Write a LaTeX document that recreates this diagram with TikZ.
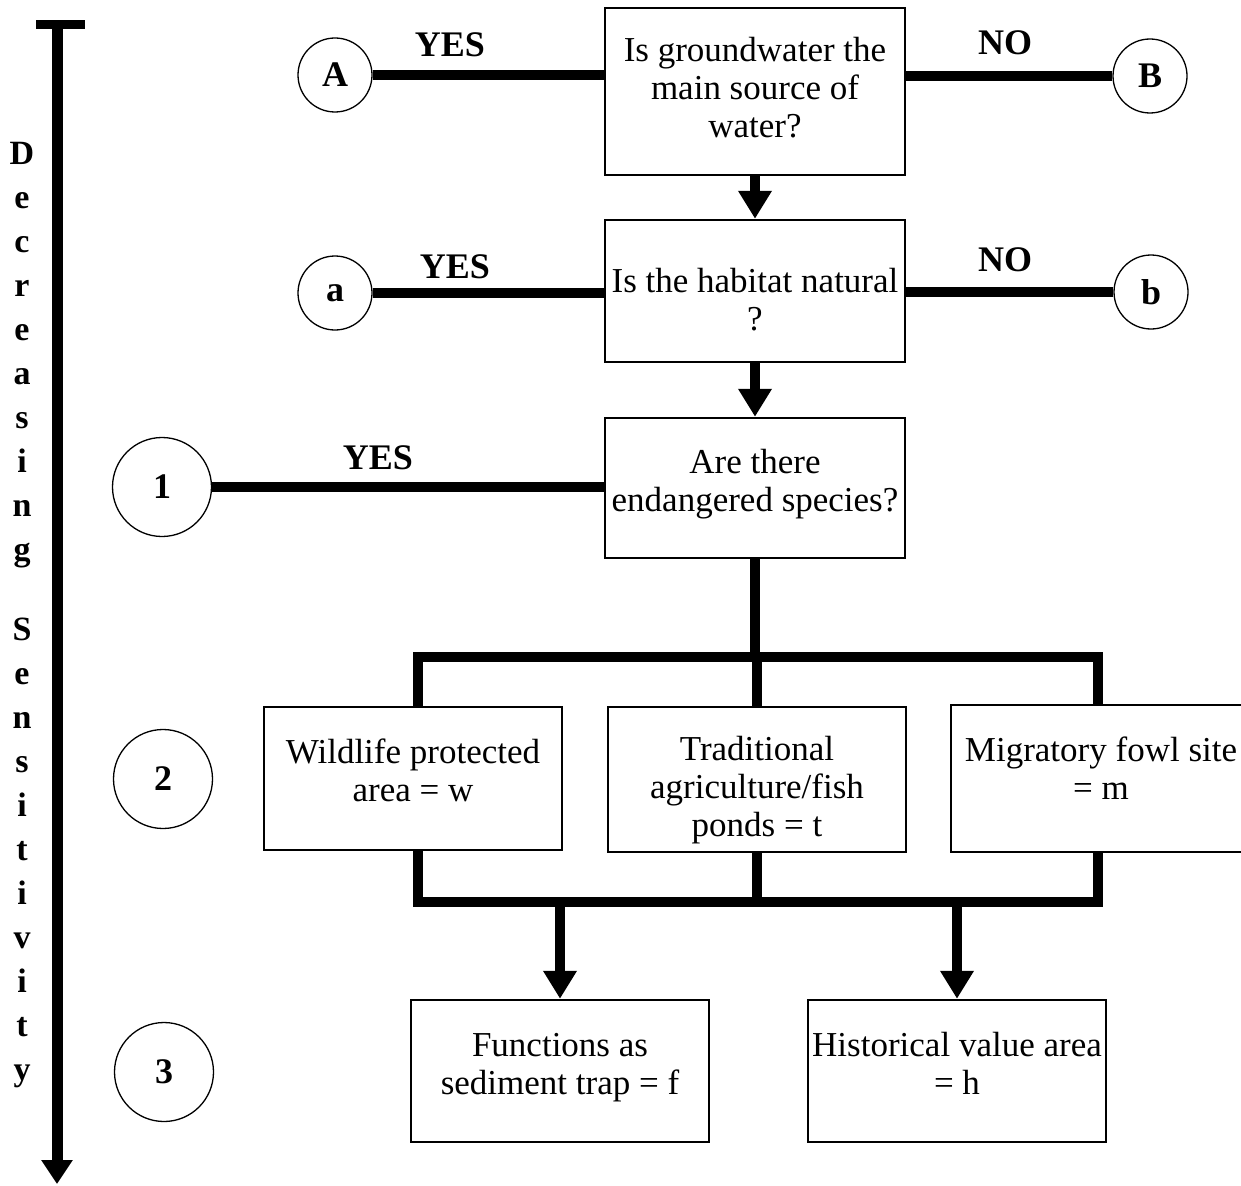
\documentclass[tikz,border=0pt]{standalone}
\usepackage{fontspec}
\setmainfont{Liberation Serif}
\usetikzlibrary{arrows.meta}
\newcommand\boxtext[2]{\raisebox{#1}[\height][\depth]{\begin{tabular}{@{}c@{}}#2\end{tabular}}}
\begin{document}
\begin{tikzpicture}[x=1pt,y=-1pt,
 box/.style={draw,line width=2.5pt,font=\fontsize{35}{38}\selectfont,inner sep=0pt,minimum width=300pt},
 circ/.style={draw,circle,line width=1.3pt,font=\fontsize{36}{40}\selectfont\bfseries,inner sep=0pt},
 lbl/.style={font=\fontsize{36}{40}\selectfont\bfseries,inner sep=0pt},
 conn/.style={line width=10pt},
 arr/.style={line width=10pt,-{Triangle[length=28pt,width=32pt]}},
]
\useasboundingbox (0,0) rectangle (1241,1185);

% boxes
\node[box,minimum height=167pt] (q1) at (755,91.5) {\boxtext{-0.5pt}{Is groundwater the\\main source of\\water?}};
\node[box,minimum height=142pt] (q2) at (755,291) {\boxtext{-13pt}{Is the habitat natural\\?}};
\node[box,minimum height=140pt] (q3) at (755,488) {\boxtext{3pt}{Are there\\endangered species?}};
\node[box,minimum width=298pt,minimum height=143pt] (w) at (413,778.5) {\boxtext{3.5pt}{Wildlife protected\\area = w}};
\node[box,minimum width=298pt,minimum height=145pt] (t) at (757,779.5) {\boxtext{-11.5pt}{Traditional\\agriculture/fish\\ponds = t}};
\node[box,minimum width=300pt,minimum height=147pt] (m) at (1101,778.5) {\boxtext{5.5pt}{Migratory fowl site\\= m}};
\node[box,minimum width=298pt,minimum height=142pt] (f) at (560,1071) {\boxtext{3.5pt}{Functions as\\sediment trap = f}};
\node[box,minimum width=298pt,minimum height=142pt] (h) at (957,1071) {\boxtext{3.5pt}{Historical value area\\= h}};

% circles
\node[circ,minimum size=74pt] (A) at (335,75) {A};
\node[circ,minimum size=74pt] (B) at (1150,76) {B};
\node[circ,minimum size=74pt] (a) at (335,293) {a};
\node[circ,minimum size=74pt] (b) at (1151,292) {b};
\node[circ,minimum size=99pt] (n1) at (162,487) {1};
\node[circ,minimum size=99pt] (n2) at (163,779) {2};
\node[circ,minimum size=99pt] (n3) at (164,1072) {3};

% labels
\node[lbl] (yes1) at (450,45) {YES};
\node[lbl] (no1) at (1005,43) {NO};
\node[lbl] (yes2) at (455,267) {YES};
\node[lbl] (no2) at (1005,260) {NO};
\node[lbl] (yes3) at (378,458) {YES};

% side connectors
\draw[conn] (A.east) -- (A.east -| q1.west);
\draw[conn] (q1.east |- B.west) -- (B.west);
\draw[conn] (a.east) -- (a.east -| q2.west);
\draw[conn] (q2.east |- b.west) -- (b.west);
\draw[conn] (n1.east) -- (n1.east -| q3.west);

% main arrows
\draw[arr] (q1.south) -- (q2.north);
\draw[arr] (q2.south) -- (q3.north);

% upper distribution bar
\coordinate (bl) at (418,657);
\coordinate (br) at (1098,657);
\draw[conn] (q3.south) -- (q3.south |- bl);
\draw[conn] (bl |- w.north) -- (bl) -- (br) -- (br |- m.north);
\draw[conn] (t.north) -- (t.north |- bl);

% lower collection bar
\coordinate (bl2) at (418,902);
\coordinate (br2) at (1098,902);
\draw[conn] (bl2 |- w.south) -- (bl2) -- (br2) -- (br2 |- m.south);
\draw[conn] (t.south) -- (t.south |- bl2);
\draw[arr] (f.north |- bl2) -- (f.north);
\draw[arr] (h.north |- bl2) -- (h.north);

% sensitivity axis
\coordinate (axtop) at (57,24);
\coordinate (axbot) at (57,1184);
\coordinate (barl) at (36,24.5);
\coordinate (barr) at (85,24.5);
\draw[line width=11pt,-{Triangle[length=24pt,width=30pt]}] (axtop) -- (axbot);
\draw[line width=9pt] (barl) -- (barr);
\node[lbl,align=center,font=\fontsize{34}{44}\selectfont\bfseries,anchor=north] (vt) at (22,142)
 {D\\e\\c\\r\\e\\a\\s\\i\\n\\g\\[36pt]S\\e\\n\\s\\i\\t\\i\\v\\i\\t\\y};
\end{tikzpicture}
\end{document}
